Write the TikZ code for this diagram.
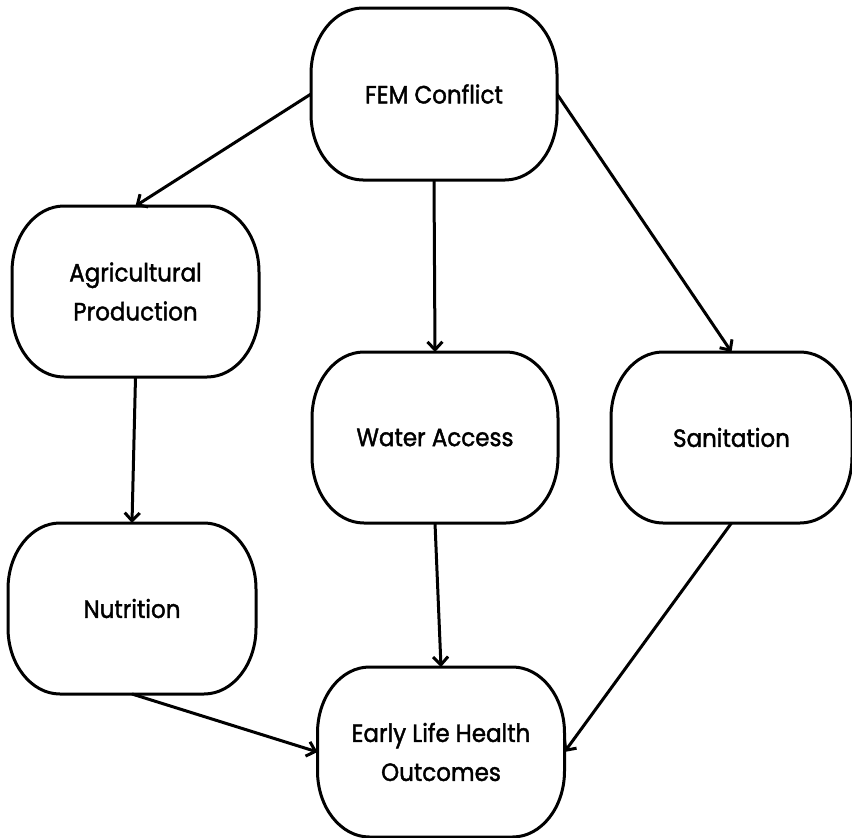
\documentclass[tikz,border=0pt]{standalone}
\usepackage{fontspec}
\setmainfont{Poppins}[FakeStretch=0.92,FakeBold=1.6]
\usetikzlibrary{arrows.meta}
\tikzset{
  box/.style={rectangle, inner sep=0pt, outer sep=0pt, minimum height=171pt, align=center, font=\fontsize{25}{39}\selectfont},
  capline/.style={line width=3pt, line join=round},
  conn/.style={line width=3pt, -{Straight Barb[length=8pt,width=15pt,line width=3pt]}}
}
\newcommand\capsule[1]{%
  \draw[capline] ([xshift=52pt]#1.north west) -- ([xshift=-52pt]#1.north east)
    arc[start angle=90,end angle=0,x radius=52pt,y radius=66pt]
    -- ([yshift=66pt]#1.south east)
    arc[start angle=0,end angle=-90,x radius=52pt,y radius=66pt]
    -- ([xshift=52pt]#1.south west)
    arc[start angle=270,end angle=180,x radius=52pt,y radius=66pt]
    -- ([yshift=-66pt]#1.north west)
    arc[start angle=180,end angle=90,x radius=52pt,y radius=66pt] -- cycle;}
\begin{document}
\begin{tikzpicture}[x=1pt,y=1pt]
\useasboundingbox (0,0) rectangle (852,-838);
\node[box, minimum width=246pt, minimum height=172pt] (fem) at (434,-94) {FEM Conflict};
\node[box, minimum width=247pt] (agr) at (135.5,-291.5) {Agricultural\\Production};
\node[box, minimum width=246pt] (wat) at (435,-437.5) {Water Access};
\node[box, minimum width=241pt] (san) at (731.5,-437.5) {Sanitation};
\node[box, minimum width=248pt] (nut) at (132,-608.5) {Nutrition};
\node[box, minimum width=247pt, minimum height=170pt] (ear) at (441,-752) {Early Life Health\\Outcomes};
\foreach \n in {fem,agr,wat,san,nut,ear} {\capsule{\n}}
\draw[conn] (fem.west) -- (agr.north);
\draw[conn] (fem.south) -- (wat.north);
\draw[conn] (fem.east) -- (san.north);
\draw[conn] (agr.south) -- (nut.north);
\draw[conn] (wat.south) -- (ear.north);
\draw[conn] (nut.south) -- (ear.west);
\draw[conn] (san.south) -- (ear.east);
\end{tikzpicture}
\end{document}
